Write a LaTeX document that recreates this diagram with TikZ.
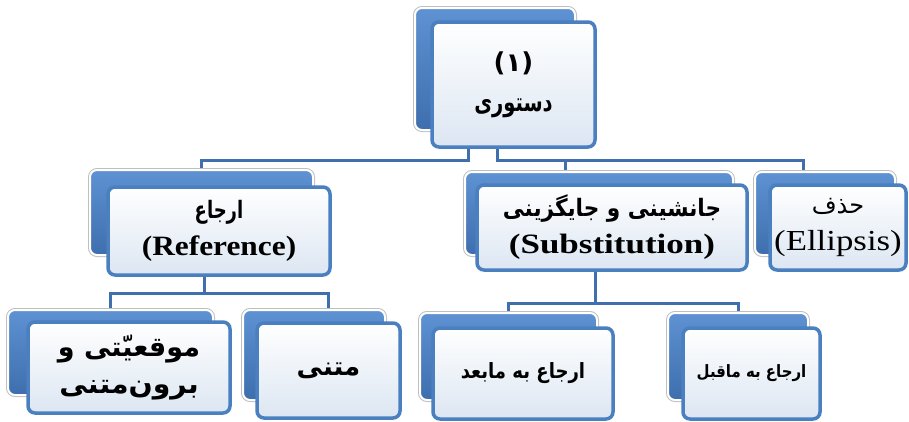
\documentclass[tikz,border=0pt]{standalone}
\usepackage{fontspec}
\newfontfamily\fa[Script=Arabic]{DejaVu Sans}
\newfontfamily\lser{Liberation Serif}
\TeXXeTstate=1
\usetikzlibrary{fit,calc}
\definecolor{bblue}{HTML}{4A7FC0}
\definecolor{bluetop}{HTML}{5E92D2}
\definecolor{bluebot}{HTML}{3E6EAE}
\definecolor{frontbot}{HTML}{DCE6F2}
\definecolor{cblue}{HTML}{3F70AD}
\newcommand\LT[2]{\scalebox{#1}[1]{#2}}
\pgfdeclarelayer{bg}
\pgfsetlayers{bg,main}
\begin{document}
\begin{tikzpicture}[x=1pt,y=-1pt,
 backbox/.style={rounded corners=7pt, top color=bluetop, bottom color=bluebot, draw=white, line width=2pt, preaction={draw=black!25, line width=4pt}, inner sep=0pt},
 frontbox/.style={rounded corners=7pt, top color=white, bottom color=frontbot, draw=bblue, line width=3.5pt, inner sep=0pt},
 conn/.style={draw=cblue, line width=3pt},
 fatxt/.style={align=center, inner sep=0pt, font=\fa\bfseries\fontsize{24}{37}\selectfont}]
\useasboundingbox (0,0) rectangle (909,421);
% top
\node[backbox, fit={(415,8) (575,130)}] (topb) {};
\node[frontbox, fit={(432,22) (595,147)}] (topf) {};
\node[fatxt, font=\fa\bfseries\fontsize{26}{40}\selectfont] (topt) at (topf.center) {(۱)\\\scalebox{0.75}[1]{\beginR دستوری\endR}};
% reference
\node[backbox, fit={(90,170) (313,255)}] (refb) {};
\node[frontbox, fit={(108,187) (330,275)}] (reff) {};
\node[fatxt] (reft) at (reff.center) {\scalebox{0.75}[1]{\beginR ارجاع\endR}\\{\lser\bfseries\fontsize{28}{34}\selectfont\LT{1.12}{(Reference)}}};
% substitution
\node[backbox, fit={(465,172) (733,255)}] (subb) {};
\node[frontbox, fit={(477,185) (747,270)}] (subf) {};
\node[fatxt] (subt) at (subf.center) {\scalebox{0.9}[1]{\beginR جانشینی و جایگزینی\endR}\\{\lser\bfseries\fontsize{28}{34}\selectfont\LT{1.25}{(Substitution)}}};
% ellipsis
\node[backbox, fit={(755,172) (895,255)}] (ellb) {};
\node[frontbox, fit={(770,185) (906,270)}] (ellf) {};
\node[fatxt, font=\fa\fontsize{24}{37}\selectfont] (ellt) at (ellf.center) {\beginR حذف\endR\\{\lser\fontsize{29}{34}\selectfont\LT{1.2}{(Ellipsis)}}};
% situational
\node[backbox, fit={(8,310) (213,395)}] (locb) {};
\node[frontbox, fit={(28,322) (230,413)}] (locf) {};
\node[fatxt, font=\fa\bfseries\fontsize{27}{37}\selectfont] (loct) at (locf.center) {\beginR موقعیّتی و\endR\\\scalebox{1.05}[1]{\beginR برون‌متنی\endR}};
% textual
\node[backbox, fit={(243,310) (385,400)}] (textb) {};
\node[frontbox, fit={(257,323) (400,418)}] (textf) {};
\node[fatxt, font=\fa\bfseries\fontsize{26}{34}\selectfont] (textt) at (textf.center) {\beginR متنی\endR};
% cataphora
\node[backbox, fit={(420,313) (597,400)}] (catab) {};
\node[frontbox, fit={(433,328) (613,419)}] (cataf) {};
\node[fatxt, font=\fa\bfseries\fontsize{21}{26}\selectfont] (catat) at (cataf.center) {\scalebox{0.86}[1]{\beginR ارجاع به مابعد\endR}};
% anaphora
\node[backbox, fit={(668,313) (808,400)}] (anab) {};
\node[frontbox, fit={(683,328) (820,419)}] (anaf) {};
\node[fatxt, font=\fa\bfseries\fontsize{17}{22}\selectfont] (anat) at (anaf.center) {\scalebox{0.88}[1]{\beginR ارجاع به ماقبل\endR}};
% connectors
\begin{pgfonlayer}{bg}
\coordinate (bus) at (0,160);
\coordinate (bus2) at (0,303);
\coordinate (bus3) at (0,293);
\coordinate (t1) at ([xshift=-45.5pt]topf.south);
\coordinate (t2) at ([xshift=-16.5pt]topf.south);
\coordinate (e1) at ([xshift=-22pt]ellb.north);
\coordinate (s1) at ([xshift=-34pt]subb.north);
\coordinate (s2) at ([xshift=-17pt]subf.south);
\coordinate (r1) at ([xshift=-15pt]reff.south);
\coordinate (x1) at ([xshift=14pt]textb.north);
\draw[conn] (t1) -- (t1 |- bus) -| (refb.north);
\draw[conn] (t2) -- (t2 |- bus) -| (e1);
\draw[conn] (s1 |- bus) -- (s1);
\draw[conn] (s2) -- (s2 |- bus2);
\draw[conn] (catab.north) -- (catab.north |- bus2) -- (anab.north |- bus2) -- (anab.north);
\draw[conn] (r1) -- (r1 |- bus3);
\draw[conn] (locb.north) -- (locb.north |- bus3) -- (x1 |- bus3) -- (x1);
\end{pgfonlayer}
\end{tikzpicture}
\end{document}
